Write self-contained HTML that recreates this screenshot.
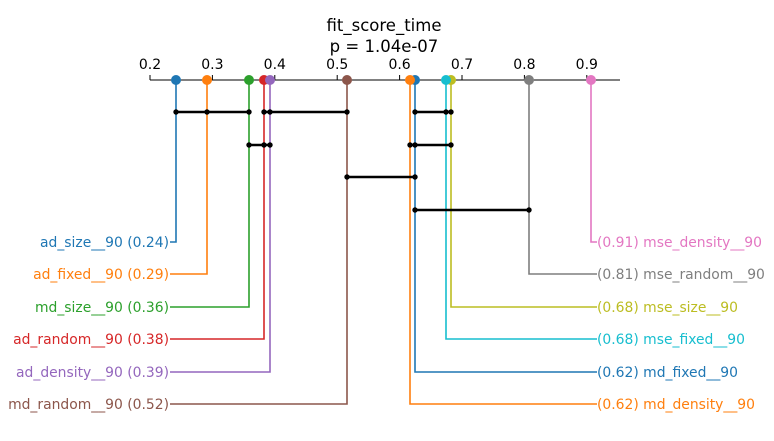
<!DOCTYPE html>
<html><head><style>
html,body{margin:0;padding:0;background:#fff;}
svg text{font-family:"DejaVu Sans","Liberation Sans",sans-serif;}
</style></head><body>
<svg width="774" height="436" viewBox="0 0 774 436" xmlns="http://www.w3.org/2000/svg">
<text x="384" y="31" font-size="16.5" text-anchor="middle">fit_score_time</text>
<text x="384" y="52" font-size="16.5" text-anchor="middle">p = 1.04e-07</text>
<line x1="150" y1="80" x2="620" y2="80" stroke="#000" stroke-width="1"/>
<g stroke="#000" stroke-width="1">
<line x1="150" y1="75" x2="150" y2="80"/><line x1="212.4" y1="75" x2="212.4" y2="80"/>
<line x1="274.8" y1="75" x2="274.8" y2="80"/><line x1="337.2" y1="75" x2="337.2" y2="80"/>
<line x1="399.6" y1="75" x2="399.6" y2="80"/><line x1="462" y1="75" x2="462" y2="80"/>
<line x1="524.4" y1="75" x2="524.4" y2="80"/><line x1="586.8" y1="75" x2="586.8" y2="80"/>
</g>
<g font-size="14" text-anchor="middle">
<text x="150" y="69">0.2</text><text x="212.4" y="69">0.3</text><text x="274.8" y="69">0.4</text>
<text x="337.2" y="69">0.5</text><text x="399.6" y="69">0.6</text><text x="462" y="69">0.7</text>
<text x="524.4" y="69">0.8</text><text x="586.8" y="69">0.9</text>
</g>
<g fill="none" stroke-width="1.6">
<polyline points="176,80 176,242 170,242" stroke="#1f77b4"/>
<polyline points="207,80 207,274 170,274" stroke="#ff7f0e"/>
<polyline points="249,80 249,307 170,307" stroke="#2ca02c"/>
<polyline points="264,80 264,339 170,339" stroke="#d62728"/>
<polyline points="270,80 270,372 170,372" stroke="#9467bd"/>
<polyline points="347,80 347,404 170,404" stroke="#8c564b"/>
<polyline points="591,80 591,242 597,242" stroke="#e377c2"/>
<polyline points="529,80 529,274 597,274" stroke="#7f7f7f"/>
<polyline points="451,80 451,307 597,307" stroke="#bcbd22"/>
<polyline points="446,80 446,339 597,339" stroke="#17becf"/>
<polyline points="415,80 415,372 597,372" stroke="#1f77b4"/>
<polyline points="410,80 410,404 597,404" stroke="#ff7f0e"/>
</g>
<circle cx="176" cy="80" r="5" fill="#1f77b4"/><circle cx="207" cy="80" r="5" fill="#ff7f0e"/>
<circle cx="249" cy="80" r="5" fill="#2ca02c"/><circle cx="264" cy="80" r="5" fill="#d62728"/>
<circle cx="270" cy="80" r="5" fill="#9467bd"/><circle cx="347" cy="80" r="5" fill="#8c564b"/>
<circle cx="415" cy="80" r="5" fill="#1f77b4"/><circle cx="410" cy="80" r="5" fill="#ff7f0e"/>
<circle cx="451" cy="80" r="5" fill="#bcbd22"/><circle cx="446" cy="80" r="5" fill="#17becf"/>
<circle cx="529" cy="80" r="5" fill="#7f7f7f"/><circle cx="591" cy="80" r="5" fill="#e377c2"/>
<g stroke="#000" stroke-width="2.5">
<line x1="176" y1="112" x2="249" y2="112"/><line x1="264" y1="112" x2="347" y2="112"/>
<line x1="415" y1="112" x2="451" y2="112"/>
<line x1="249" y1="145" x2="270" y2="145"/><line x1="410" y1="145" x2="451" y2="145"/>
<line x1="347" y1="177" x2="415" y2="177"/><line x1="415" y1="210" x2="529" y2="210"/>
</g>
<g fill="#000">
<circle cx="176" cy="112" r="2.7"/><circle cx="207" cy="112" r="2.7"/><circle cx="249" cy="112" r="2.7"/>
<circle cx="264" cy="112" r="2.7"/><circle cx="270" cy="112" r="2.7"/><circle cx="347" cy="112" r="2.7"/>
<circle cx="415" cy="112" r="2.7"/><circle cx="446" cy="112" r="2.7"/><circle cx="451" cy="112" r="2.7"/>
<circle cx="249" cy="145" r="2.7"/><circle cx="264" cy="145" r="2.7"/><circle cx="270" cy="145" r="2.7"/>
<circle cx="410" cy="145" r="2.7"/><circle cx="415" cy="145" r="2.7"/><circle cx="451" cy="145" r="2.7"/>
<circle cx="347" cy="177" r="2.7"/><circle cx="415" cy="177" r="2.7"/>
<circle cx="415" cy="210" r="2.7"/><circle cx="529" cy="210" r="2.7"/>
</g>
<g font-size="13.9" text-anchor="end">
<text x="169" y="247" fill="#1f77b4">ad_size__90 (0.24)</text>
<text x="169" y="279" fill="#ff7f0e">ad_fixed__90 (0.29)</text>
<text x="169" y="312" fill="#2ca02c">md_size__90 (0.36)</text>
<text x="169" y="344" fill="#d62728">ad_random__90 (0.38)</text>
<text x="169" y="377" fill="#9467bd">ad_density__90 (0.39)</text>
<text x="169" y="409" fill="#8c564b">md_random__90 (0.52)</text>
</g>
<g font-size="13.9">
<text x="597" y="247" fill="#e377c2">(0.91) mse_density__90</text>
<text x="597" y="279" fill="#7f7f7f">(0.81) mse_random__90</text>
<text x="597" y="312" fill="#bcbd22">(0.68) mse_size__90</text>
<text x="597" y="344" fill="#17becf">(0.68) mse_fixed__90</text>
<text x="597" y="377" fill="#1f77b4">(0.62) md_fixed__90</text>
<text x="597" y="409" fill="#ff7f0e">(0.62) md_density__90</text>
</g>
</svg>
</body></html>
